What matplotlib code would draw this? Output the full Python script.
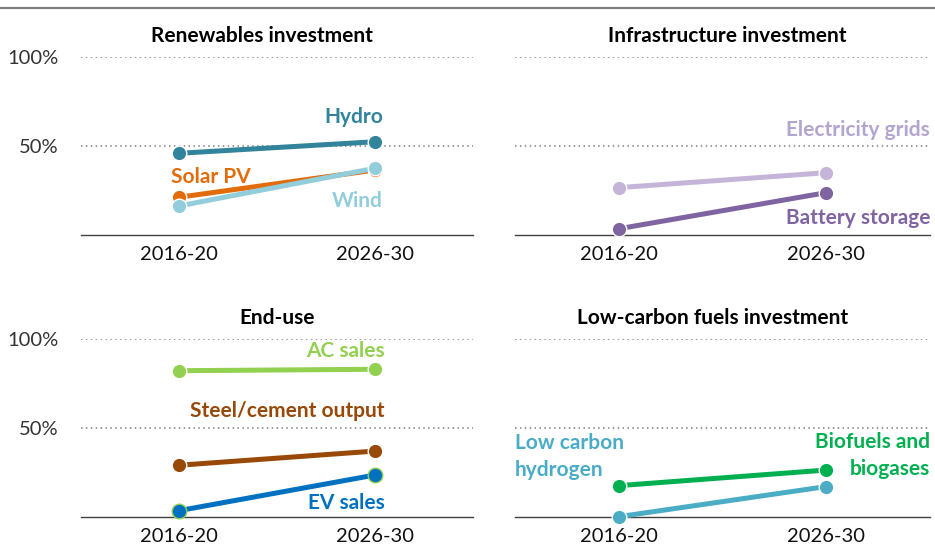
import matplotlib
matplotlib.use("Agg")
import matplotlib.pyplot as plt
from matplotlib.lines import Line2D

plt.rcParams['font.family'] = ['Lato', 'DejaVu Sans']

periods = ["2016-20", "2026-30"]

# shares in %
hydro = [45.9, 52.4]
solar_pv = [21.2, 36.5]
wind = [16.3, 37.5]
grids = [26.6, 35.0]
battery = [3.5, 23.8]
ac_sales = [82.3, 83.1]
steel_cement = [29.0, 37.0]
ev_sales = [3.4, 23.5]
biofuels = [17.5, 26.3]
hydrogen = [0.0, 17.0]

fig = plt.figure(figsize=(9.35, 5.47), dpi=100)

# top border
fig.add_artist(Line2D([0, 1], [1 - 8/547, 1 - 8/547], color='#7f7f7f', lw=1.6))

W, H = 935, 547
def make_ax(x0, x1, ybase, ytop, ylabels):
    ax = fig.add_axes([x0/W, 1 - ybase/H, (x1-x0)/W, (ybase-ytop)/H])
    ax.set_xlim(-0.5, 1.5)
    ax.set_ylim(0, 100)
    for s in ['top', 'right', 'left']:
        ax.spines[s].set_visible(False)
    ax.spines['bottom'].set_color('#404040')
    ax.spines['bottom'].set_linewidth(1.0)
    for yv in [50, 100]:
        ax.axhline(yv, color='#7f7f7f', lw=1.1, ls=(0, (1, 2.2)), zorder=0)
    ax.set_xticks([0, 1])
    ax.set_xticklabels(periods, fontsize=14.5, color='#111111')
    ax.tick_params(axis='x', length=0, pad=8)
    ax.set_yticks([50, 100])
    if ylabels:
        ax.set_yticklabels(['50%', '100%'], fontsize=14.5, color='#333333')
    else:
        ax.set_yticklabels([])
    ax.tick_params(axis='y', length=0, pad=16)
    return ax

def series(ax, vals, color, edge='white'):
    ax.plot([0, 1], vals, color=color, lw=3.6, marker='o', ms=10.5,
            mfc=color, mec=edge, mew=1.0, clip_on=False, zorder=3)

def label(ax, x, y, txt, color, ha):
    ax.text(x, y, txt, color=color, ha=ha, va='center', fontsize=15,
            fontweight='bold', linespacing=1.42, multialignment=ha)

ax1 = make_ax(81, 473, 235, 57, True)
ax2 = make_ax(515, 930, 235, 57, False)
ax3 = make_ax(81, 473, 516.7, 339.3, True)
ax4 = make_ax(515, 930, 516.7, 339.3, False)

ax1.text(0.425, 111.8, "Renewables investment", ha='center', va='center',
         fontsize=15, fontweight='bold')
ax2.text(0.525, 111.8, "Infrastructure investment", ha='center', va='center',
         fontsize=15, fontweight='bold')
ax3.text(0.5, 112, "End-use", ha='center', va='center',
         fontsize=15, fontweight='bold')
ax4.text(0.45, 112, "Low-carbon fuels investment", ha='center', va='center',
         fontsize=15, fontweight='bold')

series(ax1, hydro, '#31849B')
series(ax1, solar_pv, '#E36C0A')
series(ax1, wind, '#92CDDC')
label(ax1, 1.04, 66.3, "Hydro", '#31849B', 'right')
label(ax1, -0.04, 32.5, "Solar PV", '#E36C0A', 'left')
label(ax1, 1.04, 19.1, "Wind", '#92CDDC', 'right')

series(ax2, grids, '#C4B5D8')
series(ax2, battery, '#8064A2')
label(ax2, 1.5, 59, "Electricity grids", '#B4A5D0', 'right')
label(ax2, 1.5, 9.6, "Battery storage", '#8064A2', 'right')

series(ax3, ac_sales, '#92D050')
series(ax3, steel_cement, '#984807')
series(ax3, ev_sales, '#0070C0', edge='#92D050')
label(ax3, 1.05, 93.4, "AC sales", '#92D050', 'right')
label(ax3, 1.05, 59.6, "Steel/cement output", '#984807', 'right')
label(ax3, 1.05, 7.7, "EV sales", '#0070C0', 'right')

series(ax4, biofuels, '#00B050')
series(ax4, hydrogen, '#4BACC6')
label(ax4, -0.5, 34.0, "Low carbon\nhydrogen", '#4BACC6', 'left')
label(ax4, 1.5, 34.3, "Biofuels and\nbiogases", '#00B050', 'right')

fig.savefig("out.png", dpi=100)
